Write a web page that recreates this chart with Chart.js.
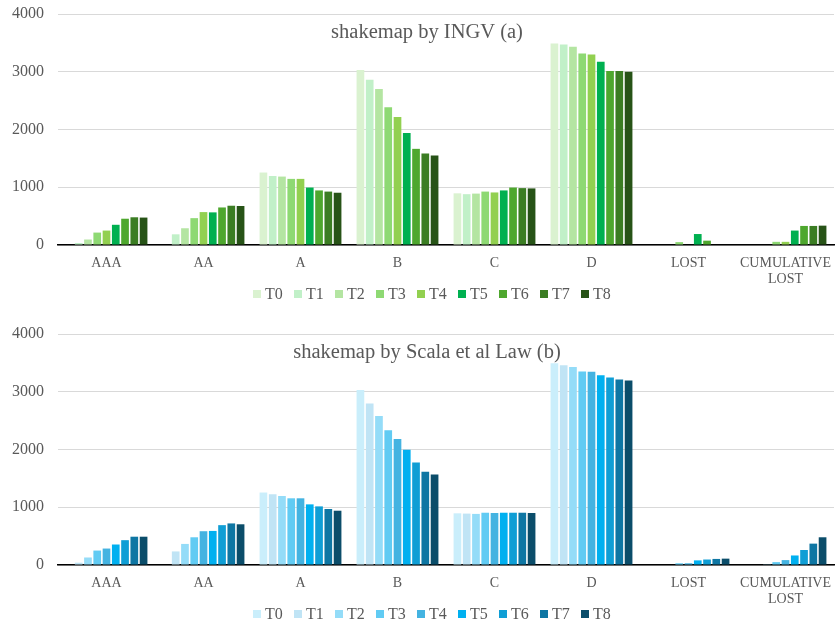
<!DOCTYPE html>
<html>
<head>
<meta charset="utf-8">
<script src="https://cdn.jsdelivr.net/npm/chart.js@4/dist/chart.umd.min.js"></script>
<style>
  html, body { margin: 0; padding: 0; background: #fff; }
  .panel { position: absolute; left: 0; width: 835px; height: 301px; }
  .legend { position: absolute; left: 253px; top: 285px; display: flex;
            font: 16px "Liberation Serif", "Times New Roman", serif; color: #595959; }
  .legend .item { width: 41px; height: 18px; display: flex; align-items: center; }
  .legend .sw { width: 8px; height: 8px; margin-right: 4px; }
</style>
</head>
<body>
<div class="panel" style="top:0">
  <canvas id="chartA" width="835" height="301"></canvas>
  <div class="legend" id="legendA"></div>
</div>
<div class="panel" style="top:320px">
  <canvas id="chartB" width="835" height="301"></canvas>
  <div class="legend" id="legendB"></div>
</div>
<script>
// Damage classes on the x axis and the time steps shown as series
const categories = ['AAA', 'AA', 'A', 'B', 'C', 'D', 'LOST', ['CUMULATIVE', 'LOST']];
const seriesNames = ['T0', 'T1', 'T2', 'T3', 'T4', 'T5', 'T6', 'T7', 'T8'];
const yTicks = [0, 1000, 2000, 3000, 4000];

// (a) shakemap by INGV: counts per class, T0..T8
const ingvAAA  = [0, 35, 95, 215, 250, 350, 455, 480, 475];
const ingvAA   = [0, 185, 290, 465, 570, 565, 650, 680, 675];
const ingvA    = [1255, 1195, 1185, 1145, 1145, 995, 945, 925, 905];
const ingvB    = [3030, 2860, 2700, 2385, 2215, 1940, 1665, 1585, 1550];
const ingvC    = [895, 880, 890, 925, 910, 945, 995, 985, 980];
const ingvD    = [3490, 3470, 3435, 3315, 3300, 3175, 3015, 3015, 3000];
const ingvLost = [0, 0, 0, 50, 0, 190, 75, 0, 0];
const ingvCum  = [0, 0, 0, 55, 55, 250, 330, 330, 335];

// (b) shakemap by Scala et al Law: counts per class, T0..T8
const scalaAAA  = [0, 40, 130, 250, 285, 355, 430, 490, 490];
const scalaAA   = [0, 235, 365, 480, 585, 590, 690, 720, 705];
const scalaA    = [1255, 1225, 1195, 1155, 1155, 1050, 1015, 970, 940];
const scalaB    = [3030, 2795, 2580, 2335, 2180, 1995, 1775, 1615, 1565];
const scalaC    = [895, 890, 885, 905, 900, 905, 905, 905, 900];
const scalaD    = [3495, 3460, 3430, 3350, 3345, 3285, 3245, 3210, 3195];
const scalaLost = [0, 0, 0, 30, 30, 80, 95, 105, 110];
const scalaCum  = [0, 0, 5, 50, 85, 165, 260, 370, 480];

const greens = ['#daf2d0', '#c1f0c8', '#b4e5a2', '#8ed973', '#92d050', '#00b050', '#4ea72e', '#3b7d23', '#275317'];
const blues  = ['#caeefb', '#c0e4f5', '#94dcf8', '#61cbf3', '#44b3e1', '#00b0f0', '#0f9ed5', '#0e76a3', '#0b4d6a'];

const serif = '"Liberation Serif", "Times New Roman", serif';
const textGrey = '#595959';

// Draws the panel heading inside the plot area
const panelTitle = {
  id: 'panelTitle',
  afterDraw(chart, args, opts) {
    const ctx = chart.ctx;
    ctx.save();
    ctx.font = '20.5px ' + serif;
    ctx.fillStyle = textGrey;
    ctx.textAlign = 'center';
    ctx.textBaseline = 'alphabetic';
    ctx.fillText(opts.text, 427, 38);
    ctx.restore();
  }
};

function buildDatasets(rows, colors) {
  return seriesNames.map((name, s) => ({
    label: name,
    data: rows.map(r => r[s]),
    backgroundColor: colors[s],
    borderWidth: 0,
    categoryPercentage: 0.86,
    barPercentage: 0.83
  }));
}

function buildLegend(id, colors) {
  const el = document.getElementById(id);
  seriesNames.forEach((name, s) => {
    const item = document.createElement('div');
    item.className = 'item';
    const sw = document.createElement('span');
    sw.className = 'sw';
    sw.style.background = colors[s];
    const tx = document.createElement('span');
    tx.textContent = name;
    item.appendChild(sw);
    item.appendChild(tx);
    el.appendChild(item);
  });
}

function makeChart(canvasId, rows, colors, title) {
  return new Chart(document.getElementById(canvasId), {
    type: 'bar',
    data: { labels: categories, datasets: buildDatasets(rows, colors) },
    options: {
      responsive: false,
      animation: false,
      devicePixelRatio: 1,
      layout: { padding: { top: 14, right: 1, left: 0, bottom: 0 } },
      plugins: {
        legend: { display: false },
        tooltip: { enabled: false },
        panelTitle: { text: title }
      },
      scales: {
        x: {
          grid: { display: false, drawTicks: false },
          border: { display: true, color: '#000000', width: 1.5 },
          ticks: { color: textGrey, padding: 11, maxRotation: 0, autoSkip: false,
                   font: { family: serif, size: 14, lineHeight: 1.1 } },
          afterFit(scale) {
            scale.height = 56;
            scale.paddingLeft = 0;
            scale.paddingRight = 0;
          }
        },
        y: {
          min: yTicks[0],
          max: yTicks[yTicks.length - 1],
          afterBuildTicks(scale) { scale.ticks = yTicks.map(v => ({ value: v })); },
          grid: { color: '#d9d9d9', lineWidth: 1, drawTicks: true, tickLength: 11, tickColor: 'rgba(0,0,0,0)' },
          border: { display: false },
          ticks: { color: textGrey, padding: 3, font: { family: serif, size: 16 },
                   callback: v => String(v) },
          afterFit(scale) { scale.width = 58; }
        }
      }
    },
    plugins: [panelTitle]
  });
}

makeChart('chartA', [ingvAAA, ingvAA, ingvA, ingvB, ingvC, ingvD, ingvLost, ingvCum], greens, 'shakemap by INGV (a)');
makeChart('chartB', [scalaAAA, scalaAA, scalaA, scalaB, scalaC, scalaD, scalaLost, scalaCum], blues, 'shakemap by Scala et al Law (b)');
buildLegend('legendA', greens);
buildLegend('legendB', blues);
</script>
</body>
</html>
